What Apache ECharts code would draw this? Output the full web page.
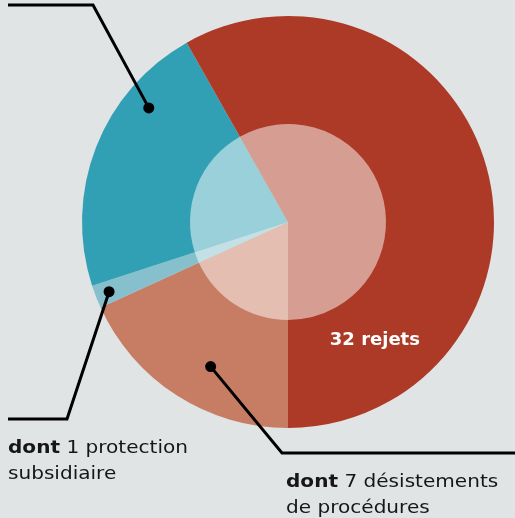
<!DOCTYPE html>
<html>
<head>
<meta charset="utf-8">
<script src="https://cdn.jsdelivr.net/npm/echarts@6/dist/echarts.min.js"></script>
<style>
  html, body { margin: 0; padding: 0; background: #e1e4e5; }
  #chart { width: 515px; height: 518px; }
</style>
</head>
<body>
<div id="chart"></div>
<script>
// Decisions, drawn clockwise starting from 6 o'clock
const categories = ['Autres issues', 'Protection subsidiaire', 'Statut de réfugié', 'Rejets'];
const values = [10, 1, 12, 32];
const colors = ['#c77d63', '#85c0cc', '#32a0b4', '#ad3a26'];
const subsidiaryCount = 1;
const withdrawalCount = 7;
const rejectionIndex = 3;

// Layout
const CX = 288, CY = 222, R_OUT = 206, R_IN = 98;
const FONT = '"DejaVu Sans", "Noto Sans", sans-serif';
const INK = '#161616';
const TEXT_STRETCH = 1.18;

const chart = echarts.init(document.getElementById('chart'), null, { renderer: 'canvas' });

const total = values.reduce((a, b) => a + b, 0);
// angle measured clockwise from 12 o'clock, in degrees
function sliceAngle(i, frac) {
  let cum = 0;
  for (let k = 0; k < i; k++) cum += values[k];
  return 180 + 360 * (cum + frac * values[i]) / total;
}
function polar(theta, rho) {
  const a = theta * Math.PI / 180;
  return [CX + rho * Math.sin(a), CY - rho * Math.cos(a)];
}

const pieData = categories.map((name, i) => ({ name, value: values[i], itemStyle: { color: colors[i] } }));

// Leader lines: anchor inside a slice, then elbow out to the label
const leaders = [
  { slice: 2, frac: 0.73, rho: 180, path: [[93, 5], [8, 5]] },
  { slice: 1, frac: 0.50, rho: 192, path: [[67, 419], [8, 419]] },
  { slice: 0, frac: 0.43, rho: 164, path: [[282, 453], [515, 453]] }
];

const graphics = [];
leaders.forEach(l => {
  const p = polar(sliceAngle(l.slice, l.frac), l.rho);
  graphics.push({
    type: 'polyline', silent: true, z: 100,
    shape: { points: [p].concat(l.path) },
    style: { stroke: '#000', lineWidth: 3, fill: null, lineJoin: 'miter' }
  });
  graphics.push({
    type: 'circle', silent: true, z: 101,
    shape: { cx: p[0], cy: p[1], r: 5.5 },
    style: { fill: '#000' }
  });
});

const rich = {
  b: { fontFamily: FONT, fontSize: 17, fontWeight: 'bold', fill: INK, lineHeight: 26 },
  n: { fontFamily: FONT, fontSize: 17, fontWeight: 'normal', fill: INK, lineHeight: 26 }
};
graphics.push({
  type: 'text', silent: true, z: 100, x: 8, y: 436, scaleX: TEXT_STRETCH,
  style: { text: `{b|dont} {n|${subsidiaryCount} protection}\n{n|subsidiaire}`, rich, fill: INK, font: `17px ${FONT}` }
});
graphics.push({
  type: 'text', silent: true, z: 100, x: 286, y: 470, scaleX: TEXT_STRETCH,
  style: { text: `{b|dont} {n|${withdrawalCount} désistements}\n{n|de procédures}`, rich, fill: INK, font: `17px ${FONT}` }
});
const rp = polar(sliceAngle(rejectionIndex, 0.827), 147);
graphics.push({
  type: 'text', silent: true, z: 100, x: rp[0], y: rp[1],
  style: {
    text: `${values[rejectionIndex]} rejets`, fill: '#ffffff',
    font: `bold 18px ${FONT}`, align: 'center', verticalAlign: 'middle'
  }
});

chart.setOption({
  backgroundColor: '#e1e4e5',
  animation: false,
  series: [
    {
      type: 'pie', center: [CX, CY], radius: [0, R_OUT],
      startAngle: 270, clockwise: true,
      data: pieData, z: 1,
      label: { show: false }, labelLine: { show: false },
      itemStyle: { borderWidth: 0 },
      emphasis: { disabled: true }, silent: true
    },
    {
      type: 'pie', center: [CX, CY], radius: [0, R_IN],
      startAngle: 270, clockwise: true, z: 2,
      data: categories.map((name, i) => ({ name, value: values[i] })),
      itemStyle: { color: 'rgba(255,255,255,0.5)', borderWidth: 0 },
      label: { show: false }, labelLine: { show: false },
      emphasis: { disabled: true }, silent: true
    }
  ],
  graphic: graphics
});
</script>
</body>
</html>
